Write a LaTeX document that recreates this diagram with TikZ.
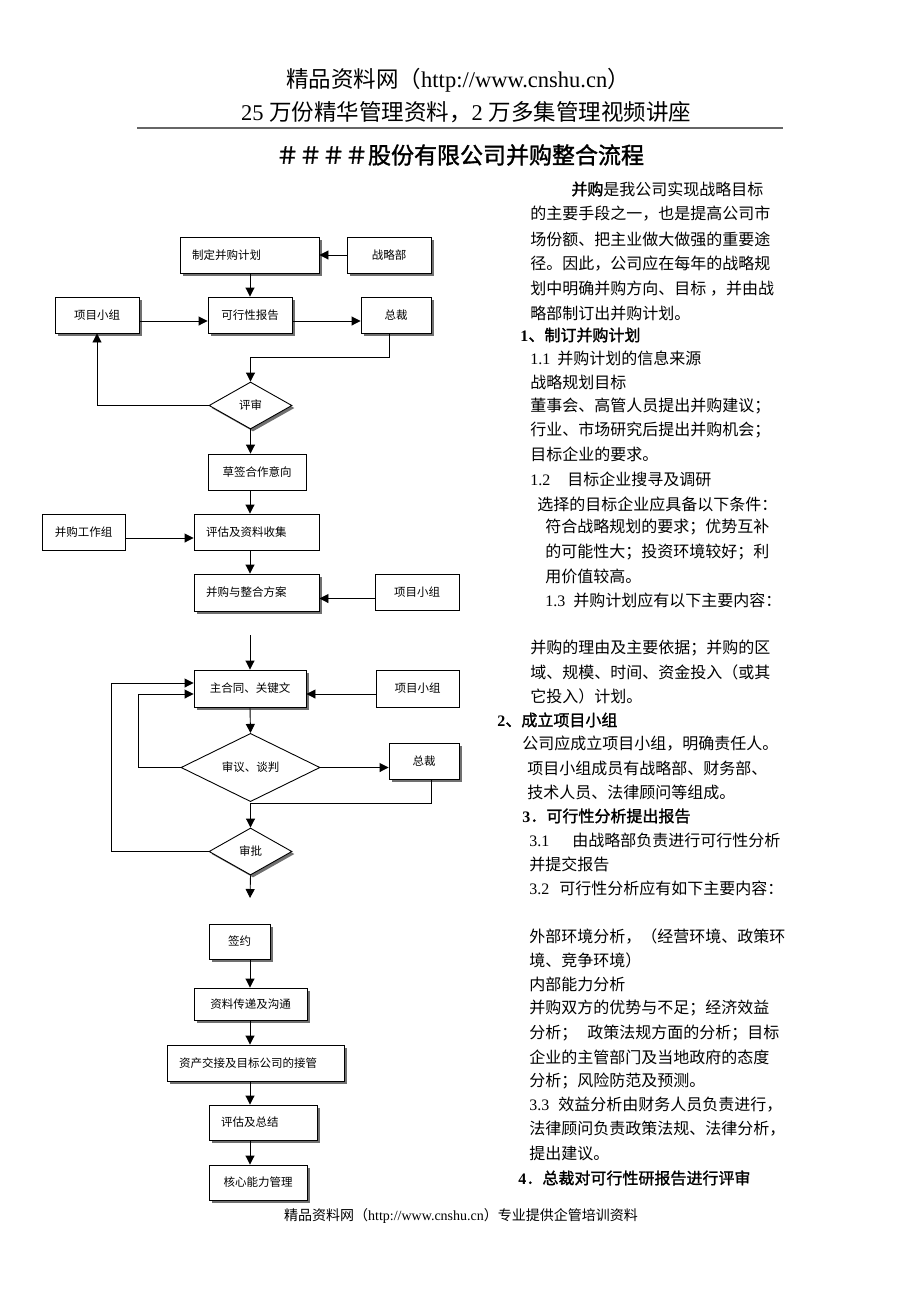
\documentclass[tikz,border=0pt]{standalone}
\usepackage{fontspec}
\setmainfont{Noto Sans CJK SC}[AutoFakeBold=1.5]
\newfontfamily\latf{Liberation Serif}
\usetikzlibrary{arrows.meta,shapes.geometric,shadows}

\tikzset{every picture/.style={line width=0.9pt}}
\tikzset{
  box/.style={draw, fill=white, rectangle, inner xsep=12pt, inner ysep=0pt, minimum height=36pt, align=center, font=\fontsize{11.5}{13}\selectfont},
  sbox/.style={box, drop shadow={shadow xshift=2.5pt, shadow yshift=-2.5pt, fill=black!70, opacity=.8}},
  dec/.style={draw, fill=white, diamond, inner sep=0pt, font=\fontsize{11.5}{13}\selectfont},
  sdec/.style={dec, drop shadow={shadow xshift=2.5pt, shadow yshift=-2.5pt, fill=black!70, opacity=.8}},
  arr/.style={-{Triangle[length=9pt,width=9pt]}},
  para/.style={anchor=west, inner sep=0pt, font=\fontsize{16}{18}\selectfont},
}

\begin{document}
\begin{tikzpicture}[x=1pt,y=-1pt]
\useasboundingbox (0,0) rectangle (920,1302);

% Text Node
\node[font=\fontsize{22.5}{26}\selectfont] (hd1) at (458,80) {精品资料网（{\latf http://www.cnshu.cn}）};
% Text Node
\node[font=\fontsize{22.5}{26}\selectfont] (hd2) at (466,112) {{\latf 25\ }万份精华管理资料，{\latf 2\ }万多集管理视频讲座};
%Straight Lines
\draw[line width=2pt, black!60] (137,128) -- (783,128);
% Text Node
\node[font=\bfseries\fontsize{23}{26}\selectfont] (title) at (460,155) {＃＃＃＃股份有限公司并购整合流程};

\coordinate (axis) at (250,0);

%Flowchart: Process
\node[sbox, text width=115pt, align=left] (plan) at (249.5,255) {制定并购计划};
\node[sbox, text width=60pt] (strat) at (389,255) {战略部};
\node[sbox, text width=60pt] (feas) at (250,315) {可行性报告};
\node[sbox, text width=60pt] (team1) at (97,315) {项目小组};
\node[sbox, text width=46pt] (ceo1) at (396,315) {总裁};
%Flowchart: Decision
\node[sdec, minimum width=83pt, minimum height=47pt] (review) at (250.5,405.5) {评审};
%Flowchart: Process
\node[box, text width=74pt] (draft) at (257,472) {草签合作意向};
\node[box, text width=101pt, align=left] (eval) at (256.5,532) {评估及资料收集};
\node[box, text width=59pt] (mteam) at (83.5,532) {并购工作组};
\node[sbox, text width=101pt, align=left, minimum height=37pt] (scheme) at (256.5,592.5) {并购与整合方案};
\node[box, text width=60pt] (team2) at (417,592.5) {项目小组};
\node[sbox, text width=88pt, minimum height=37pt] (main) at (250,688.5) {主合同、关键文};
\node[box, text width=59pt, minimum height=37pt] (team3) at (417.5,688.5) {项目小组};
%Flowchart: Decision
\node[dec, minimum width=139pt, minimum height=49pt] (nego) at (250.5,767.5) {审议、谈判};
%Flowchart: Process
\node[sbox, text width=46pt] (ceo2) at (424,761) {总裁};
%Flowchart: Decision
\node[sdec, minimum width=83pt, minimum height=47pt] (approve) at (250.5,851.5) {审批};
%Flowchart: Process
\node[sbox, text width=37pt, minimum height=35pt] (sign) at (239.5,941.5) {签约};
\node[sbox, text width=89pt, minimum height=32pt] (transfer) at (250.5,1004) {资料传递及沟通};
\node[sbox, text width=153pt, align=left] (takeover) at (255.5,1063) {资产交接及目标公司的接管};
\node[sbox, text width=84pt, align=left, minimum height=35pt] (summary) at (263,1122.5) {评估及总结};
\node[sbox, text width=74pt, minimum height=35pt] (core) at (258,1182.5) {核心能力管理};

\coordinate (gap1) at (250,635);
\coordinate (gap2) at (250,898);

%Straight Lines
\draw[arr] (strat.west) -- (plan.east);
\draw[arr] (plan.south -| feas) -- (feas.north);
\draw[arr] ([yshift=-6pt]team1.east) -- ([yshift=-6pt]team1.east -| feas.west);
\draw[arr] ([yshift=-6pt]feas.east) -- ([yshift=-6pt]feas.east -| ceo1.west);
\draw[arr] ([xshift=-7pt]ceo1.south) -- ++(0,24) -| (review.north);
\draw[arr] (review.west) -| (team1.south);
\draw[arr] (review.south) -- (review.south |- draft.north);
\draw[arr] (draft.south -| axis) -- (eval.north -| axis);
\draw[arr] ([yshift=-6pt]mteam.east) -- ([yshift=-6pt]mteam.east -| eval.west);
\draw[arr] (eval.south -| axis) -- (scheme.north -| axis);
\draw[arr] ([yshift=-6pt]team2.west) -- ([yshift=-6pt]team2.west -| scheme.east);
\draw[arr] (gap1) -- (main.north);
\draw[arr] ([yshift=-5.5pt]team3.west) -- ([yshift=-5.5pt]team3.west -| main.east);
\draw[arr] (main.south) -- (nego.north);
\draw[arr] (nego.west) -- ++(-42,0) |- ([yshift=-5.5pt]main.west);
\draw[arr] (nego.east) -- (nego.east -| ceo2.west);
\draw[arr] ([xshift=7pt]ceo2.south) -- ++(0,24) -| (approve.north);
\draw[arr] (approve.west) -- ++(-97,0) |- ([yshift=5.5pt]main.west);
\draw[arr] (approve.south) -- (gap2);
\draw[arr] (sign.south -| axis) -- (transfer.north -| axis);
\draw[arr] (transfer.south -| axis) -- (takeover.north -| axis);
\draw[arr] (takeover.south -| axis) -- (summary.north -| axis);
\draw[arr] (summary.south -| axis) -- (core.north -| axis);

% Text Node
\node[para] (p1) at (571,189) {{\bfseries 并购}是我公司实现战略目标};
\node[para] (p2) at (530,214) {的主要手段之一，也是提高公司市};
\node[para] (p3) at (530,239) {场份额、把主业做大做强的重要途};
\node[para] (p4) at (530,264) {径。因此，公司应在每年的战略规};
\node[para] (p5) at (530,289) {划中明确并购方向、目标 ，并由战};
\node[para] (p6) at (530,313) {略部制订出并购计划。};
\node[para, font=\bfseries\fontsize{16}{18}\selectfont] (h1) at (520,335) {{\latf 1}、制订并购计划};
\node[para] (p7) at (530,358) {{\latf 1.1}\hspace{7pt}并购计划的信息来源};
\node[para] (p8) at (530,382) {战略规划目标};
\node[para] (p9) at (530,406) {董事会、高管人员提出并购建议；};
\node[para] (p10) at (530,430) {行业、市场研究后提出并购机会；};
\node[para] (p11) at (530,454) {目标企业的要求。};
\node[para] (p12) at (530,479) {{\latf 1.2}\hspace{17pt}目标企业搜寻及调研};
\node[para] (p13) at (537,504) {选择的目标企业应具备以下条件：};
\node[para] (p14) at (545,527) {符合战略规划的要求；优势互补};
\node[para] (p15) at (545,552) {的可能性大；投资环境较好；利};
\node[para] (p16) at (545,576) {用价值较高。};
\node[para] (p17) at (545,600) {{\latf 1.3}\hspace{8pt}并购计划应有以下主要内容：};
\node[para] (p18) at (530,648) {并购的理由及主要依据；并购的区};
\node[para] (p19) at (530,672) {域、规模、时间、资金投入（或其};
\node[para] (p20) at (530,696) {它投入）计划。};
\node[para, font=\bfseries\fontsize{16}{18}\selectfont] (h2) at (497,720) {{\latf 2}、成立项目小组};
\node[para] (p21) at (522,744) {公司应成立项目小组，明确责任人。};
\node[para] (p22) at (527,768) {项目小组成员有战略部、财务部、};
\node[para] (p23) at (527,792) {技术人员、法律顾问等组成。};
\node[para, font=\bfseries\fontsize{16}{18}\selectfont] (h3) at (522,816) {{\latf 3}．可行性分析提出报告};
\node[para] (p24) at (529,840) {{\latf 3.1}\hspace{23pt}由战略部负责进行可行性分析};
\node[para] (p25) at (529,864) {并提交报告};
\node[para] (p26) at (529,888) {{\latf 3.2}\hspace{10pt}可行性分析应有如下主要内容：};
\node[para] (p27) at (529,936) {外部环境分析，（经营环境、政策环};
\node[para] (p28) at (529,960) {境、竞争环境）};
\node[para] (p29) at (529,984) {内部能力分析};
\node[para] (p30) at (529,1008) {并购双方的优势与不足；经济效益};
\node[para] (p31) at (529,1033) {分析；\hspace{10pt}政策法规方面的分析；目标};
\node[para] (p32) at (529,1057) {企业的主管部门及当地政府的态度};
\node[para] (p33) at (529,1081) {分析；风险防范及预测。};
\node[para] (p34) at (529,1105) {{\latf 3.3}\hspace{9pt}效益分析由财务人员负责进行，};
\node[para] (p35) at (529,1129) {法律顾问负责政策法规、法律分析，};
\node[para] (p36) at (529,1153) {提出建议。};
\node[para, font=\bfseries\fontsize{16}{18}\selectfont] (h4) at (518,1178) {{\latf 4}．总裁对可行性研报告进行评审};

% Text Node
\node[font=\fontsize{14}{16}\selectfont] (foot) at (461,1216) {精品资料网（{\latf http://www.cnshu.cn}）专业提供企管培训资料};

\end{tikzpicture}
\end{document}
